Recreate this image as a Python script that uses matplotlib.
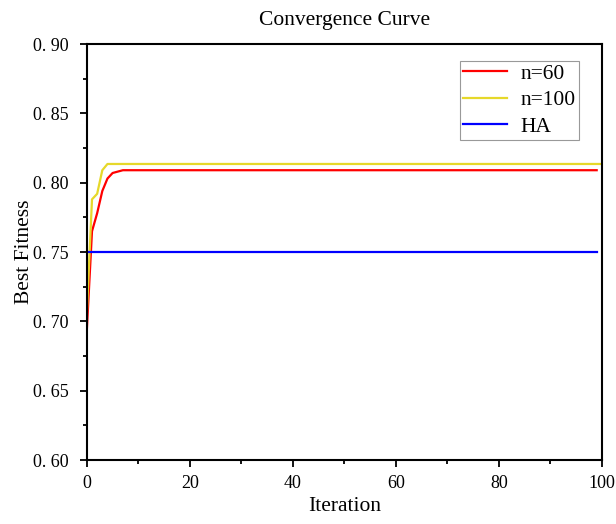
import matplotlib
matplotlib.use("Agg")
import matplotlib.pyplot as plt
from matplotlib.ticker import MultipleLocator, FuncFormatter

# values
n60_start = [0.694, 0.765, 0.778, 0.794, 0.803, 0.807, 0.808, 0.809]
n60_final = 0.809
n100_start = [0.706, 0.788, 0.792, 0.809, 0.8135]
n100_final = 0.8135
ha_value = 0.750

n60 = n60_start + [n60_final] * (100 - len(n60_start))
n100 = n100_start + [n100_final] * (101 - len(n100_start))
ha = [ha_value] * 100

plt.rcParams['font.family'] = ['Liberation Serif', 'DejaVu Serif']

fig = plt.figure(figsize=(6.16, 5.24), dpi=100)
ax = fig.add_axes([0.141, 0.122, 0.836, 0.794])

ax.plot(range(len(n60)), n60, color='#ff0000', lw=1.6, label='n=60')
ax.plot(range(len(n100)), n100, color='#e6d82a', lw=1.6, label='n=100')
ax.plot(range(len(ha)), ha, color='#0000ff', lw=1.6, label='HA')

ax.set_xlim(0, 100)
ax.set_ylim(0.60, 0.90)
ax.xaxis.set_major_locator(MultipleLocator(20))
ax.xaxis.set_minor_locator(MultipleLocator(10))
ax.yaxis.set_major_locator(MultipleLocator(0.05))
ax.yaxis.set_minor_locator(MultipleLocator(0.025))
ax.yaxis.set_major_formatter(FuncFormatter(lambda v, p: '0. %02d' % round(v * 100)))
ax.tick_params(which='both', direction='out', width=1.3, labelsize=13)
ax.tick_params(which='major', length=5)
ax.tick_params(which='minor', length=3)
ax.tick_params(axis='y', which='major', pad=8)
ax.tick_params(axis='x', which='major', pad=6)
for s in ax.spines.values():
    s.set_linewidth(1.5)

ax.set_title('Convergence Curve', fontsize=15.5, pad=14)
ax.set_xlabel('Iteration', fontsize=15.5, labelpad=3)
ax.set_ylabel('Best Fitness', fontsize=15.5, labelpad=-1)

leg = ax.legend(loc='upper right', bbox_to_anchor=(0.955, 0.96), fontsize=15.5,
                fancybox=False, edgecolor='#999999', framealpha=1,
                handlelength=2.05, borderpad=0.15, labelspacing=0.3, handletextpad=0.6,
                borderaxespad=0)
leg.get_frame().set_linewidth(0.8)

fig.savefig('out.png', dpi=100)
